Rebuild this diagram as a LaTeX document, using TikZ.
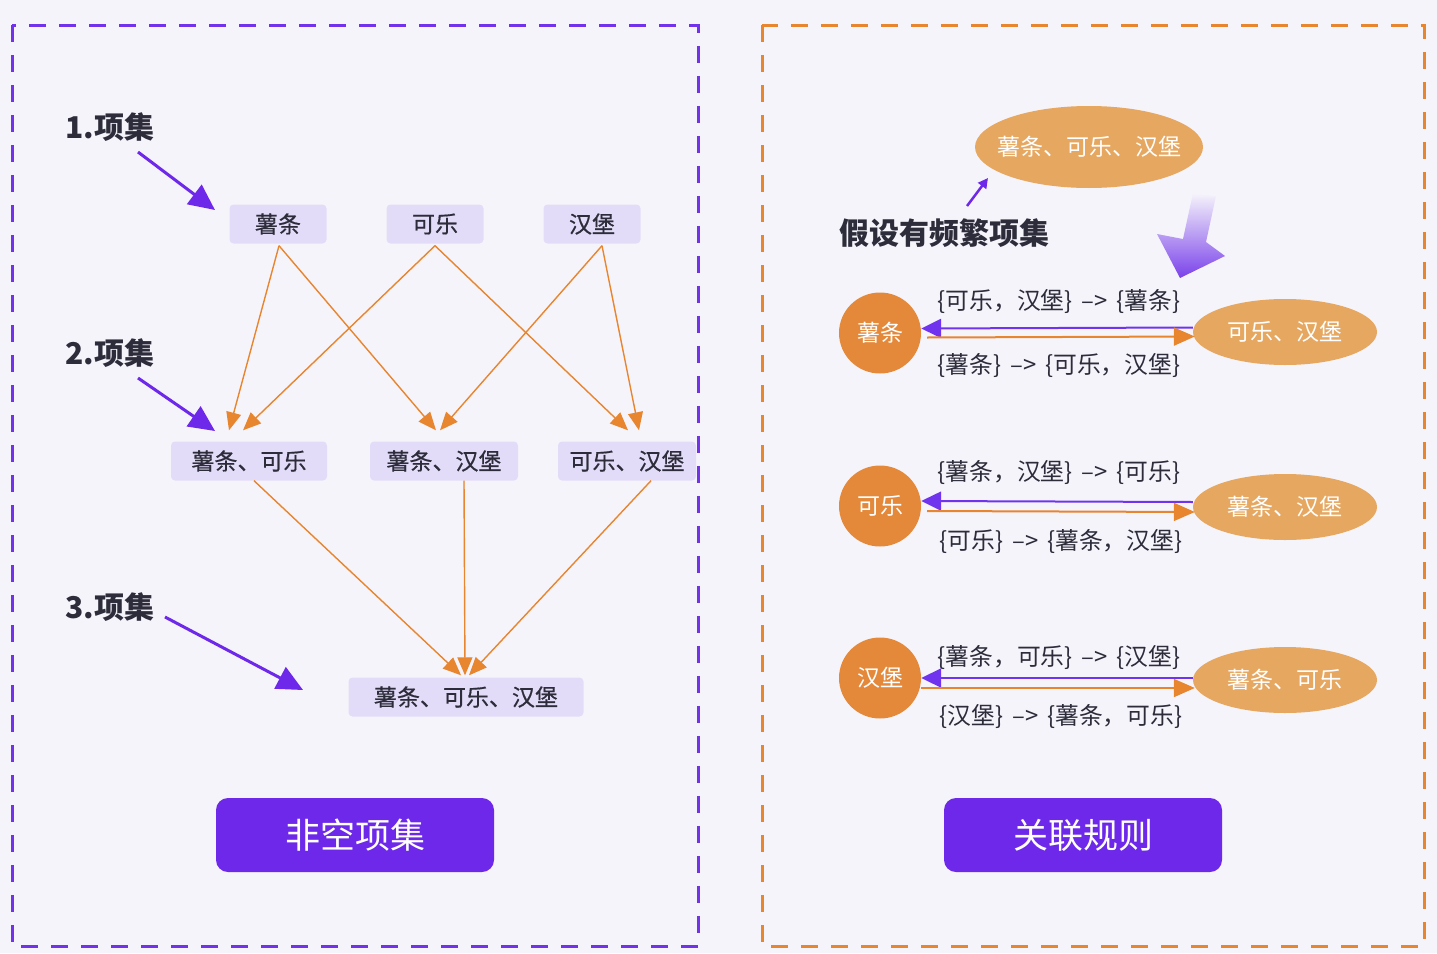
\documentclass[tikz,border=0pt]{standalone}
\usepackage{fontspec}
\setmainfont{Noto Sans CJK SC}
\newfontfamily\medfont{Noto Sans CJK SC}[FakeBold=0.6]
\usetikzlibrary{shapes.geometric,arrows.meta,calc}
\definecolor{bg}{HTML}{F6F4FB}
\definecolor{dpurple}{HTML}{7232EC}
\definecolor{dorange}{HTML}{E8852F}
\definecolor{btnpurple}{HTML}{6D28E9}
\definecolor{boxfill}{HTML}{E3DCF8}
\definecolor{txt}{HTML}{2C2C3A}
\definecolor{circfill}{HTML}{E4893A}
\definecolor{ellfill}{HTML}{E6A760}
\definecolor{rarrow}{HTML}{7034EE}
\definecolor{gpurple}{HTML}{7A42EA}
\newcommand{\arr}{\hspace{9pt}–>\hspace{9pt}}
\tikzset{
  frame/.style={line width=3pt, dash pattern=on 17pt off 13pt},
  itembox/.style={fill=boxfill, rounded corners=4pt, inner sep=0pt, text=txt,
    font=\fontsize{23}{27}\medfont, minimum height=39pt},
  lvl/.style={text=txt, font=\fontsize{30}{34}\selectfont\bfseries, inner sep=0pt},
  oarr/.style={draw=dorange, line width=1.4pt, -{Triangle[length=18pt,width=15pt]}, fill=dorange},
  parr/.style={draw=btnpurple, line width=3pt, -{Triangle[length=26pt,width=24pt]}},
  btn/.style={fill=btnpurple, rounded corners=12pt, text=white, minimum width=278pt,
    minimum height=74pt, font=\fontsize{35}{40}\selectfont},
  circ/.style={ellipse, fill=circfill, text=white, minimum width=82pt, minimum height=81pt,
    inner sep=0pt, font=\fontsize{23}{27}\selectfont},
  ell/.style={ellipse, fill=ellfill, text=white, minimum width=184pt, minimum height=66pt,
    inner sep=0pt, font=\fontsize{23}{27}\selectfont},
  rule/.style={text=txt, font=\fontsize{23.8}{28}\selectfont, inner sep=0pt},
  pline/.style={draw=rarrow, line width=2pt, -{Triangle[length=20pt,width=19pt]}},
  oline/.style={draw=dorange, line width=2pt, -{Triangle[length=21pt,width=18pt]}},
}
\begin{document}
\begin{tikzpicture}[x=1pt,y=-1pt]
\useasboundingbox (0,0) rectangle (1437,953);
\fill[bg] (0,0) rectangle (1437,953);
% frames
\draw[frame, dpurple] (12,25) rectangle (698,946);
\draw[frame, dorange] (762,25) rectangle (1424,946);

% ---------- left panel ----------
\node[itembox, minimum width=97pt] (a1) at (278,224) {薯条};
\node[itembox, minimum width=97pt] (a2) at (435,224) {可乐};
\node[itembox, minimum width=97pt] (a3) at (592,224) {汉堡};
\node[itembox, minimum width=156pt] (b1) at (249,461) {薯条、可乐};
\node[itembox, minimum width=148pt] (b2) at (444,461) {薯条、汉堡};
\node[itembox, minimum width=138pt] (b3) at (627,461) {可乐、汉堡};
\node[itembox, minimum width=235pt] (c1) at (466,697) {薯条、可乐、汉堡};

\draw[oarr] ($(a1.south)+(1,2)$) -- ($(b1.north)+(-20,-11)$);
\draw[oarr] ($(a1.south)+(1,2)$) -- ($(b2.north)+(-8,-11)$);
\draw[oarr] ($(a2.south)+(0,2)$) -- ($(b1.north)+(-6,-11)$);
\draw[oarr] ($(a2.south)+(0,2)$) -- ($(b3.north)+(1,-11)$);
\draw[oarr] ($(a3.south)+(10,2)$) -- ($(b2.north)+(-4,-11)$);
\draw[oarr] ($(a3.south)+(10,2)$) -- ($(b3.north)+(12,-11)$);
\draw[oarr] ($(b1.south)+(5,0)$) -- ($(c1.north)+(-5,-2)$);
\draw[oarr] ($(b2.south)+(20,0)$) -- ($(c1.north)+(-1,-2)$);
\draw[oarr] ($(b3.south)+(24,0)$) -- ($(c1.north)+(3,-2)$);

\node[lvl] (l1) at (110,127) {1.项集};
\node[lvl] (l2) at (110,353) {2.项集};
\node[lvl] (l3) at (110,607) {3.项集};
\coordinate (s1) at (138,152); \coordinate (t1) at (215,210);
\coordinate (s2) at (138,378); \coordinate (t2) at (215,431);
\coordinate (s3) at (165,617); \coordinate (t3) at (303,690);
\draw[parr] (s1) -- (t1);
\draw[parr] (s2) -- (t2);
\draw[parr] (s3) -- (t3);

\node[btn] (k1) at (355,835) {非空项集};

% ---------- right panel ----------
\node[ellipse, fill=ellfill, text=white, minimum width=228pt, minimum height=82pt,
  inner xsep=-15pt, inner ysep=0pt,
  font=\fontsize{23}{27}\selectfont] (top) at (1089,147) {薯条、可乐、汉堡};
\node[lvl] (hyp) at (944,233) {假设有频繁项集};
\coordinate (hs) at (967,206);
\coordinate (he) at (988,178);
\draw[draw=btnpurple, line width=2.5pt, -{Triangle[length=10pt,width=10pt]}] (hs) -- (he);

% gradient arrow
\shade[top color=bg, bottom color=gpurple]
  (1193,193) -- (1216,196) -- (1206,242) -- (1225,256) -- (1180,278) -- (1157,234) -- (1183,239) -- cycle;

% row 1
\node[circ] (r1c) at (880,333) {薯条};
\node[ell] (r1e) at (1285,332) {可乐、汉堡};
\draw[pline] ([yshift=4.5pt]r1e.west) -- ([yshift=4.5pt]r1c.east);
\draw[oline] ([xshift=6pt,yshift=-4.5pt]r1c.east) -- ([xshift=2pt,yshift=-4.5pt]r1e.west);
\node[rule] (r1t) at (1059,301) {\{可乐，汉堡\}\arr\{薯条\}};
\node[rule] (r1b) at (1059,365) {\{薯条\}\arr\{可乐，汉堡\}};

% row 2
\node[circ] (r2c) at (880,506) {可乐};
\node[ell] (r2e) at (1285,507) {薯条、汉堡};
\draw[pline] ([yshift=5pt]r2e.west) -- ([yshift=5pt]r2c.east);
\draw[oline] ([xshift=6pt,yshift=-5pt]r2c.east) -- ([xshift=2pt,yshift=-5pt]r2e.west);
\node[rule] (r2t) at (1059,472) {\{薯条，汉堡\}\arr\{可乐\}};
\node[rule] (r2b) at (1061,541) {\{可乐\}\arr\{薯条，汉堡\}};

% row 3
\node[circ] (r3c) at (880,678) {汉堡};
\node[ell] (r3e) at (1285,680) {薯条、可乐};
\draw[pline] ([yshift=2pt]r3e.west) -- ([yshift=0pt]r3c.east);
\draw[oline] ([xshift=0pt,yshift=-10pt]r3c.east) -- ([xshift=2pt,yshift=-8pt]r3e.west);
\node[rule] (r3t) at (1059,657) {\{薯条，可乐\}\arr\{汉堡\}};
\node[rule] (r3b) at (1061,716) {\{汉堡\}\arr\{薯条，可乐\}};

\node[btn] (k2) at (1083,835) {关联规则};
\end{tikzpicture}
\end{document}
